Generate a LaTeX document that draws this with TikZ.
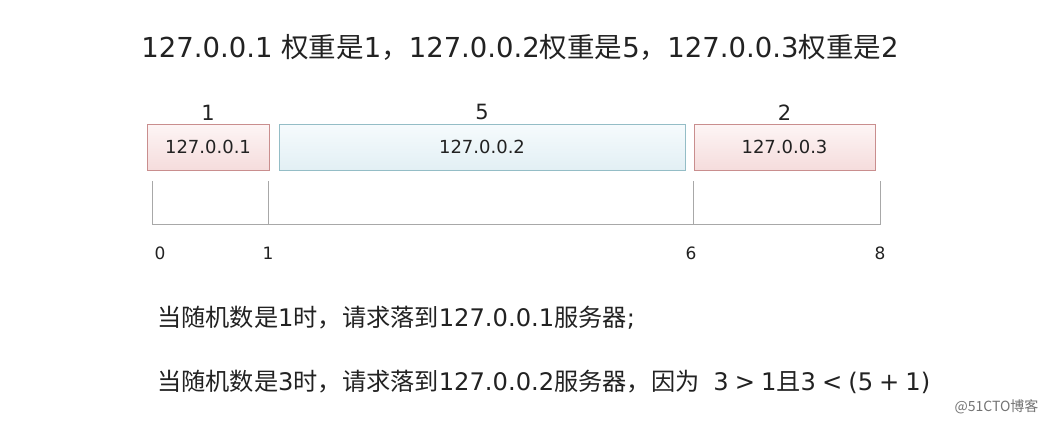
\documentclass[tikz,border=0pt]{standalone}
\usepackage{fontspec}
\setmainfont{DejaVu Sans}
\newfontfamily\cjk{Noto Sans CJK SC}
\usetikzlibrary{positioning}
\definecolor{pinkline}{HTML}{C98E8E}
\definecolor{pinktop}{HTML}{FDF5F5}
\definecolor{pinkbot}{HTML}{F5DCDC}
\definecolor{blueline}{HTML}{94BDC6}
\definecolor{bluetop}{HTML}{F6FBFD}
\definecolor{bluebot}{HTML}{E2EFF4}
\definecolor{axisgray}{HTML}{A8A8A8}
\definecolor{inkgray}{HTML}{222222}
\newcommand{\zh}[1]{{\cjk #1}}
\newcommand{\op}[1]{\hspace{6pt}#1\hspace{6pt}}
\tikzset{
	pinkbox/.style={draw=pinkline, line width=0.8pt, top color=pinktop, bottom color=pinkbot, minimum height=46pt, inner sep=0pt, font=\fontsize{18}{18}\selectfont, text=inkgray},
	bluebox/.style={pinkbox, draw=blueline, top color=bluetop, bottom color=bluebot},
	weight/.style={font=\fontsize{21}{21}\selectfont, text=inkgray},
	ticklabel/.style={font=\fontsize{17}{17}\selectfont, text=inkgray},
	textline/.style={anchor=west, font=\fontsize{24.2}{24.2}\selectfont, text=inkgray, inner sep=0pt}
}

\begin{document}
\begin{tikzpicture}[x=1pt, y=-1pt]
		%%%%% START %%%%%
		\useasboundingbox[fill=white] (0, 0) rectangle (1056, 424);
		
		\node[font=\fontsize{27.5}{27.5}\selectfont, text=inkgray] (title) at (520, 47)
			{127.0.0.1 \zh{权重是}1\zh{，}127.0.0.2\zh{权重是}5\zh{，}127.0.0.3\zh{权重是}2};
		
		% server boxes
		\node[pinkbox, minimum width=122pt] (box1) at (208, 147) {127.0.0.1};
		\node[bluebox, minimum width=406pt] (box2) at (482, 147) {127.0.0.2};
		\node[pinkbox, minimum width=181pt] (box3) at (784.5, 147) {127.0.0.3};
		
		\node[weight, above=0pt of box1] (w1) {1};
		\node[weight, above=0pt of box2] (w2) {5};
		\node[weight, above=0pt of box3] (w3) {2};
		
		% number line
		\draw[line width=1pt, color=axisgray] (152, 224) -- (881, 224);
		\foreach \x in {152, 268, 693, 880}
			\draw[line width=1pt, color=axisgray] (\x, 181) -- (\x, 224);
		
		\node[ticklabel] (t0) at (160, 253) {0};
		\node[ticklabel] (t1) at (268, 253) {1};
		\node[ticklabel] (t6) at (691, 253) {6};
		\node[ticklabel] (t8) at (880, 253) {8};
		
		\node[textline] (line1) at (157, 318) {\zh{当随机数是}1\zh{时，请求落到}127.0.0.1\zh{服务器};};
		\node[textline] (line2) at (157, 382) {\zh{当随机数是}3\zh{时，请求落到}127.0.0.2\zh{服务器，因为}\hspace{14pt}3\op{>}1\zh{且}3\op{<}(5\op{+}1)};
		
		\node[anchor=east, font=\cjk\fontsize{14}{14}\selectfont, text=black!55] (mark) at (1042, 407) {@51CTO博客};
		%%%%% END %%%%%
	\end{tikzpicture}
\end{document}
